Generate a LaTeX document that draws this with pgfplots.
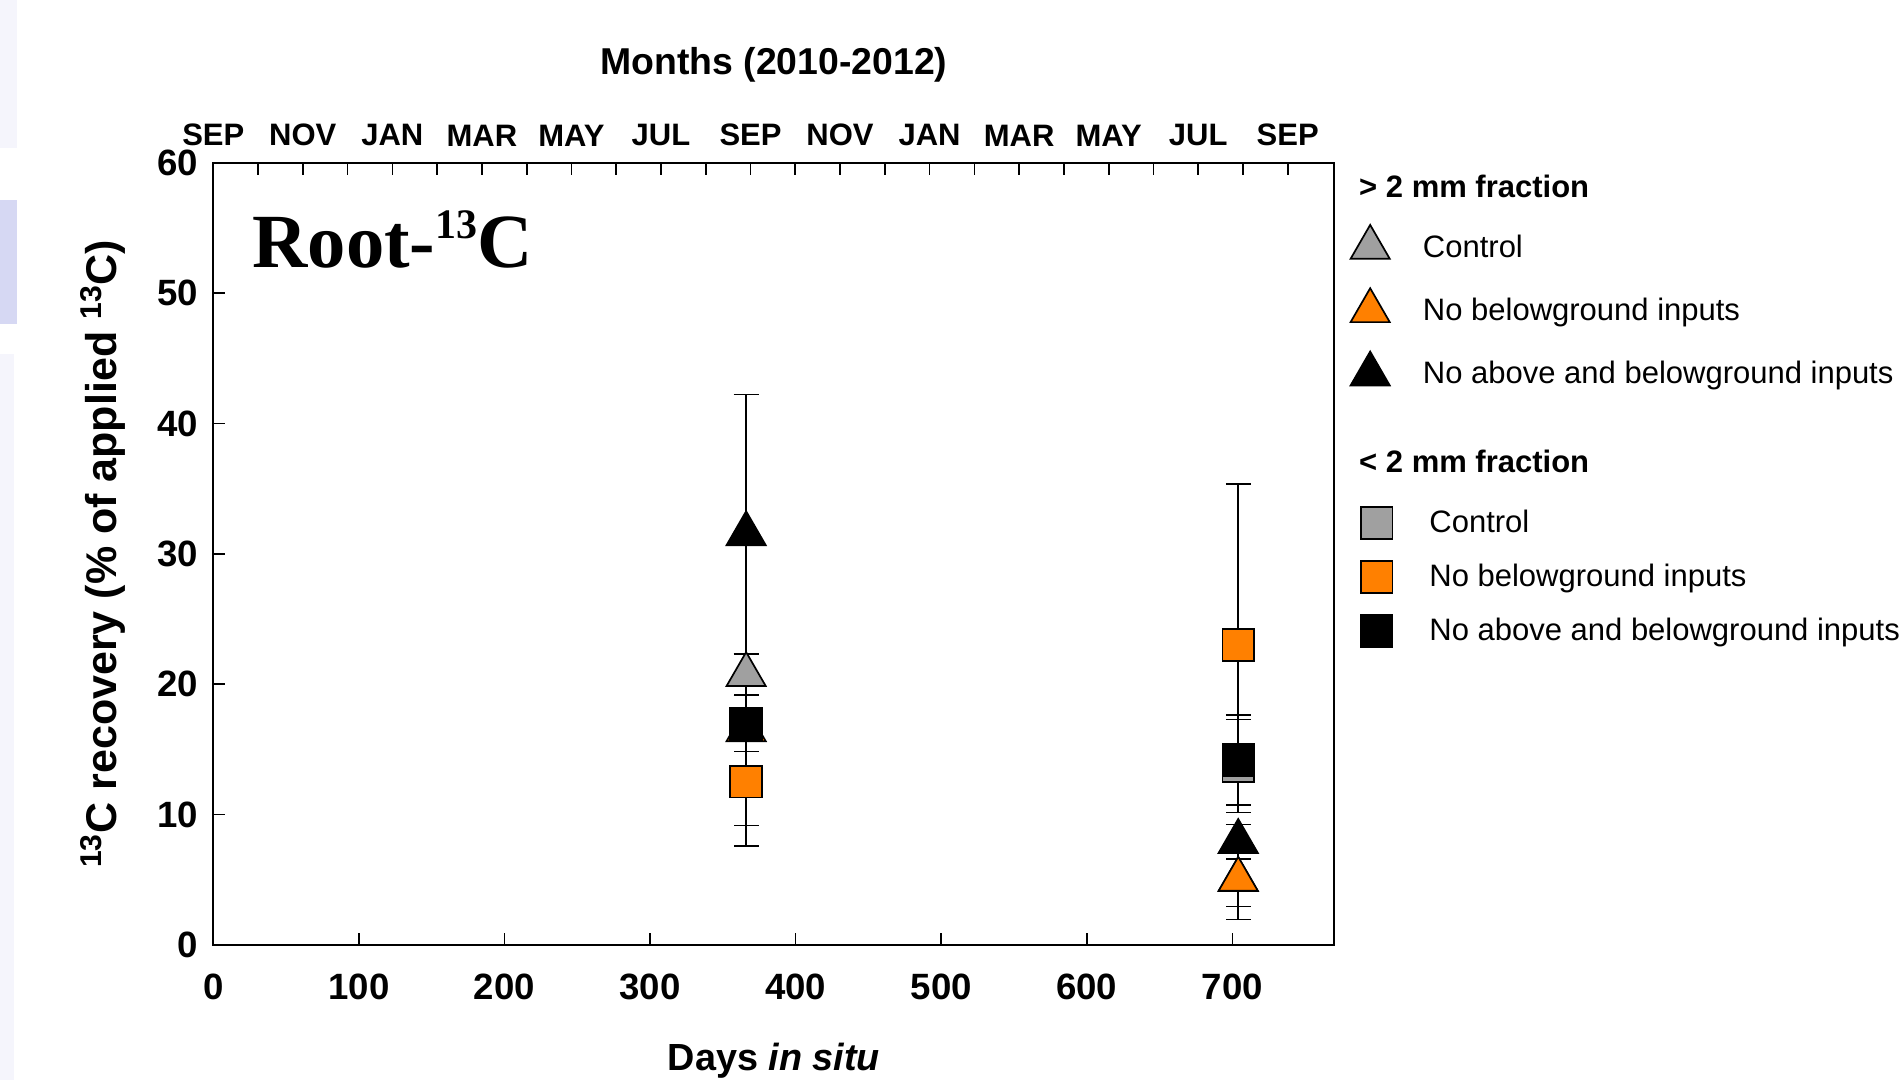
\documentclass[border=0pt]{standalone}
\usepackage{pgfplots}
\pgfplotsset{compat=1.18}
\usepackage{pgfplotstable}
\usepackage{fontspec}
\setmainfont{Liberation Sans}
\newfontfamily\timesfont{Liberation Serif}
\definecolor{cgray}{HTML}{A0A0A0}
\definecolor{corange}{HTML}{FF8000}
\definecolor{lavA}{HTML}{F5F5FC}
\definecolor{lavB}{HTML}{D6D8F3}

\pgfplotstableread{
x y ep em
366 20.73 1.57 1.57
704 5.00 3.06 3.06
}\grayTri
\pgfplotstableread{
x y ep em
366 16.50 4.30 4.60
704 5.03 2.09 2.09
}\orangeTri
\pgfplotstableread{
x y ep em
366 31.53 10.71 10.71
704 7.93 1.33 1.33
}\blackTri
\pgfplotstableread{
x y ep em
366 16.90 1.00 7.75
704 13.73 3.57 3.57
}\graySq
\pgfplotstableread{
x y ep em
366 12.52 4.93 4.93
704 23.01 12.33 12.33
}\orangeSq
\pgfplotstableread{
x y ep em
366 17.00 2.15 2.15
704 14.19 3.44 3.44
}\blackSq

\pgfplotsset{
  pt/.style n args={2}{only marks, mark=#1, mark size=#2,
    error bars/y dir=both, error bars/y explicit,
    error bars/error bar style={line width=0.75pt, black},
    error bars/error mark options={rotate=90, mark size=6.2pt, line width=0.75pt, black}},
  tri/.style={pt={triangle*}{11.3pt}, mark options={draw=black, fill=#1, line width=0.85pt, solid}},
  sq/.style={pt={square*}{7.9pt}, mark options={draw=black, fill=#1, line width=0.85pt, solid}},
  common/.style={at={(0,0)}, anchor=south west, scale only axis,
    width=560.5pt, height=391.15pt, xmin=0, xmax=770, ymin=0, ymax=60,
    tick align=inside, major tick length=6pt, minor tick length=6pt,
    axis line style={line width=0.85pt},
    tick style={line width=0.85pt, black},
    /pgf/number format/assume math mode=true},
}
\newcommand{\tf}{\bfseries\fontsize{18.3}{20}\selectfont}
\newcommand{\lf}{\fontsize{15.5}{18}\selectfont}

\begin{document}
\begin{tikzpicture}
\fill[lavA] (-106.65pt,472.5pt) rectangle (-98.15pt,398.5pt);
\fill[lavB] (-106.65pt,372.5pt) rectangle (-98.15pt,310.5pt);
\fill[lavA] (-106.65pt,295.5pt) rectangle (-99.65pt,-67.5pt);

\begin{axis}[common, clip=false,
  xtick={0,100,...,700}, ytick={0,10,...,60},
  xtick pos=left, ytick pos=left,
  xticklabel style={font=\tf, yshift=-11pt},
  yticklabel style={font=\tf, xshift=-4pt},
  every axis x label/.style={at={([yshift=-62.8pt]axis description cs:0.5,0)}, anchor=base},
  every axis y label/.style={at={([xshift=-55pt]axis description cs:0,0.5)}, rotate=90, anchor=center},
  xlabel={\textbf{Days \textit{in situ}}},
  ylabel={\bfseries\fontsize{21.5}{24}\selectfont\textsuperscript{13}C recovery (\% of applied \textsuperscript{13}C)},
  x label style={font=\bfseries\fontsize{18.9}{21}\selectfont},
  legend style={at={(1,1)}, anchor=north west, xshift=8.15pt, yshift=-31.1pt,
    draw=none, fill=none, inner sep=0pt, outer sep=0pt, row sep=14pt,
    font=\lf, nodes={inner sep=0pt},
    /tikz/every odd column/.append style={column sep=16.6pt}},
  legend cell align=left,
]
\addplot[tri=cgray] table[x=x,y=y,y error plus=ep,y error minus=em]{\grayTri};
\addlegendentry{Control}
\addplot[tri=corange] table[x=x,y=y,y error plus=ep,y error minus=em]{\orangeTri};
\addlegendentry{No belowground inputs}
\addplot[tri=black] table[x=x,y=y,y error plus=ep,y error minus=em]{\blackTri};
\addlegendentry{No above and belowground inputs}

\node[anchor=base west, inner sep=0pt] at ([xshift=19.35pt,yshift=-52.5pt]rel axis cs:0,1)
  {\timesfont\bfseries\fontsize{38.3}{40}\selectfont Root-\raisebox{14.4pt}{\fontsize{21}{22}\selectfont 13}C};
\node[anchor=base west, inner sep=0pt, font=\bfseries\lf] at ([xshift=12.25pt,yshift=-17.4pt]rel axis cs:1,1) {> 2 mm fraction};
\node[anchor=base west, inner sep=0pt, font=\bfseries\lf] at ([xshift=12.25pt,yshift=-154.9pt]rel axis cs:1,1) {< 2 mm fraction};
\end{axis}

\begin{axis}[common,
  axis x line*=top, axis y line=none,
  xtick={0,61.5,123,184.5,246,307.5,369,430.5,492,553.5,615,676.5,738},
  xticklabels={SEP,NOV,JAN,MAR,MAY,JUL,SEP,NOV,JAN,MAR,MAY,JUL,SEP},
  minor xtick={30.75,92.25,153.75,215.25,276.75,338.25,399.75,461.25,522.75,584.25,645.75,707.25},
  xticklabel style={font=\bfseries\fontsize{15.5}{17}\selectfont, yshift=4.7pt},
  every axis title/.style={at={([yshift=43.85pt]axis description cs:0.5,1)}, anchor=base},
  title={Months (2010-2012)},
  title style={font=\bfseries\fontsize{18.7}{20}\selectfont},
  legend style={at={(1,1)}, anchor=north west, xshift=13.35pt, yshift=-172.2pt,
    draw=none, fill=none, inner sep=0pt, outer sep=0pt, row sep=11.2pt,
    font=\lf, nodes={inner sep=0pt},
    /tikz/every odd column/.append style={column sep=18.4pt}},
  legend cell align=left,
]
\addplot[sq=cgray] table[x=x,y=y,y error plus=ep,y error minus=em]{\graySq};
\addlegendentry{Control}
\addplot[sq=corange] table[x=x,y=y,y error plus=ep,y error minus=em]{\orangeSq};
\addlegendentry{No belowground inputs}
\addplot[sq=black] table[x=x,y=y,y error plus=ep,y error minus=em]{\blackSq};
\addlegendentry{No above and belowground inputs}
\end{axis}

\pgfresetboundingbox
\path[use as bounding box] (-106.65pt,-67.5pt) rectangle (842.85pt,472.5pt);
\end{tikzpicture}
\end{document}
